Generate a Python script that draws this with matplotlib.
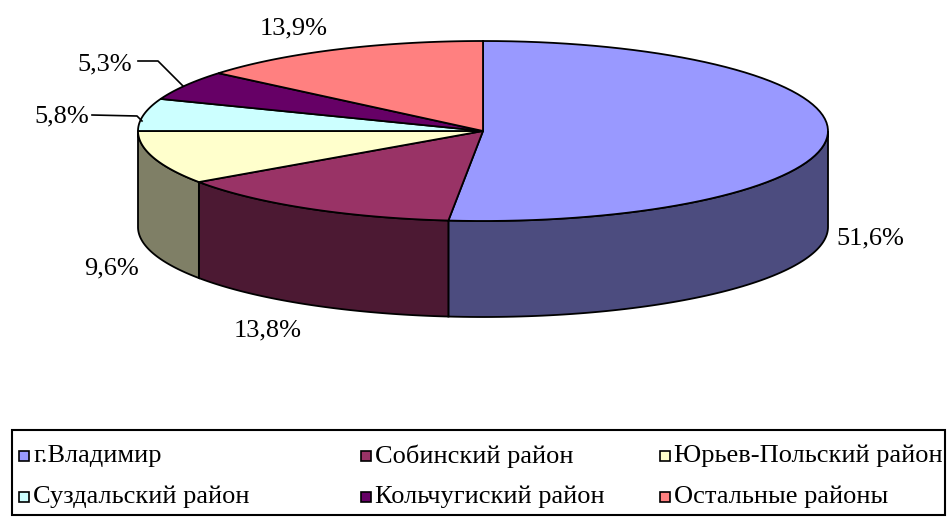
import numpy as np
import matplotlib.pyplot as plt
from matplotlib.patches import Polygon, Rectangle

plt.rcParams['font.family'] = ['Liberation Serif', 'DejaVu Serif']

# === Data ===
labels = ["г.Владимир", "Собинский район", "Юрьев-Польский район",
          "Суздальский район", "Кольчугиский район", "Остальные районы"]
shares = [51.6, 13.8, 9.6, 5.8, 5.3, 13.9]
pct_text = ["51,6%", "13,8%", "9,6%", "5,8%", "5,3%", "13,9%"]

top_colors = ['#9999FF', '#993366', '#FFFFCC', '#CCFFFF', '#660066', '#FF8080']
side_colors = ['#4C4C7F', '#4C1933', '#7F7F66', '#667F7F', '#330033', '#7F4040']

# === Pie geometry (pixel-like coords) ===
cx, cy = 483, 131
a, b = 345, 90
depth = 96

def arc(t1, t2, n=80):
    t = np.radians(np.linspace(t1, t2, n))
    return np.column_stack([cx + a * np.cos(t), cy - b * np.sin(t)])

fig = plt.figure(figsize=(9.49, 5.18), dpi=100)
ax = fig.add_axes([0, 0, 1, 1])
ax.set_xlim(0, 949)
ax.set_ylim(518, 0)
ax.axis('off')

cum = np.concatenate([[0], np.cumsum(shares)])
starts = 90 - 3.6 * cum[:-1]
ends = 90 - 3.6 * cum[1:]

# side walls (front half only: angles -180..0)
for s, e, col in zip(starts, ends, side_colors):
    lo, hi = max(e, -180), min(s, 0)
    if hi - lo <= 0.01:
        continue
    top = arc(lo, hi)
    bot = top + [0, depth]
    ax.add_patch(Polygon(np.vstack([top, bot[::-1]]), closed=True,
                         facecolor=col, edgecolor='black', lw=1.3))

# top face
for s, e, col in zip(starts, ends, top_colors):
    pts = np.vstack([[cx, cy], arc(s, e)])
    ax.add_patch(Polygon(pts, closed=True, facecolor=col,
                         edgecolor='black', lw=1.3))

# === Percent labels ===
lab_pos = [(870, 238), (268, 330), (112, 268), (62, 116), (105, 64), (294, 28)]
for (x, y), t in zip(lab_pos, pct_text):
    ax.text(x, y, t, fontsize=19, ha='center', va='center')

# leader lines
ax.plot([92, 137, 142], [115, 116, 121], color='black', lw=1.2)
ax.plot([138, 158, 183], [61, 61, 86], color='black', lw=1.2)

# === Legend ===
ax.add_patch(Rectangle((12, 430), 933, 85, fill=False, edgecolor='black', lw=1.5))
leg_x = [19, 361, 660]
leg_y = [456, 497]
for i, (lab, col) in enumerate(zip(labels, top_colors)):
    x = leg_x[i % 3]
    y = leg_y[i // 3]
    ax.add_patch(Rectangle((x, y - 5), 10, 10, facecolor=col,
                           edgecolor='black', lw=1.2))
    ax.text(x + 14, y, lab, fontsize=19, ha='left', va='center')

fig.savefig("out.png", dpi=100)
